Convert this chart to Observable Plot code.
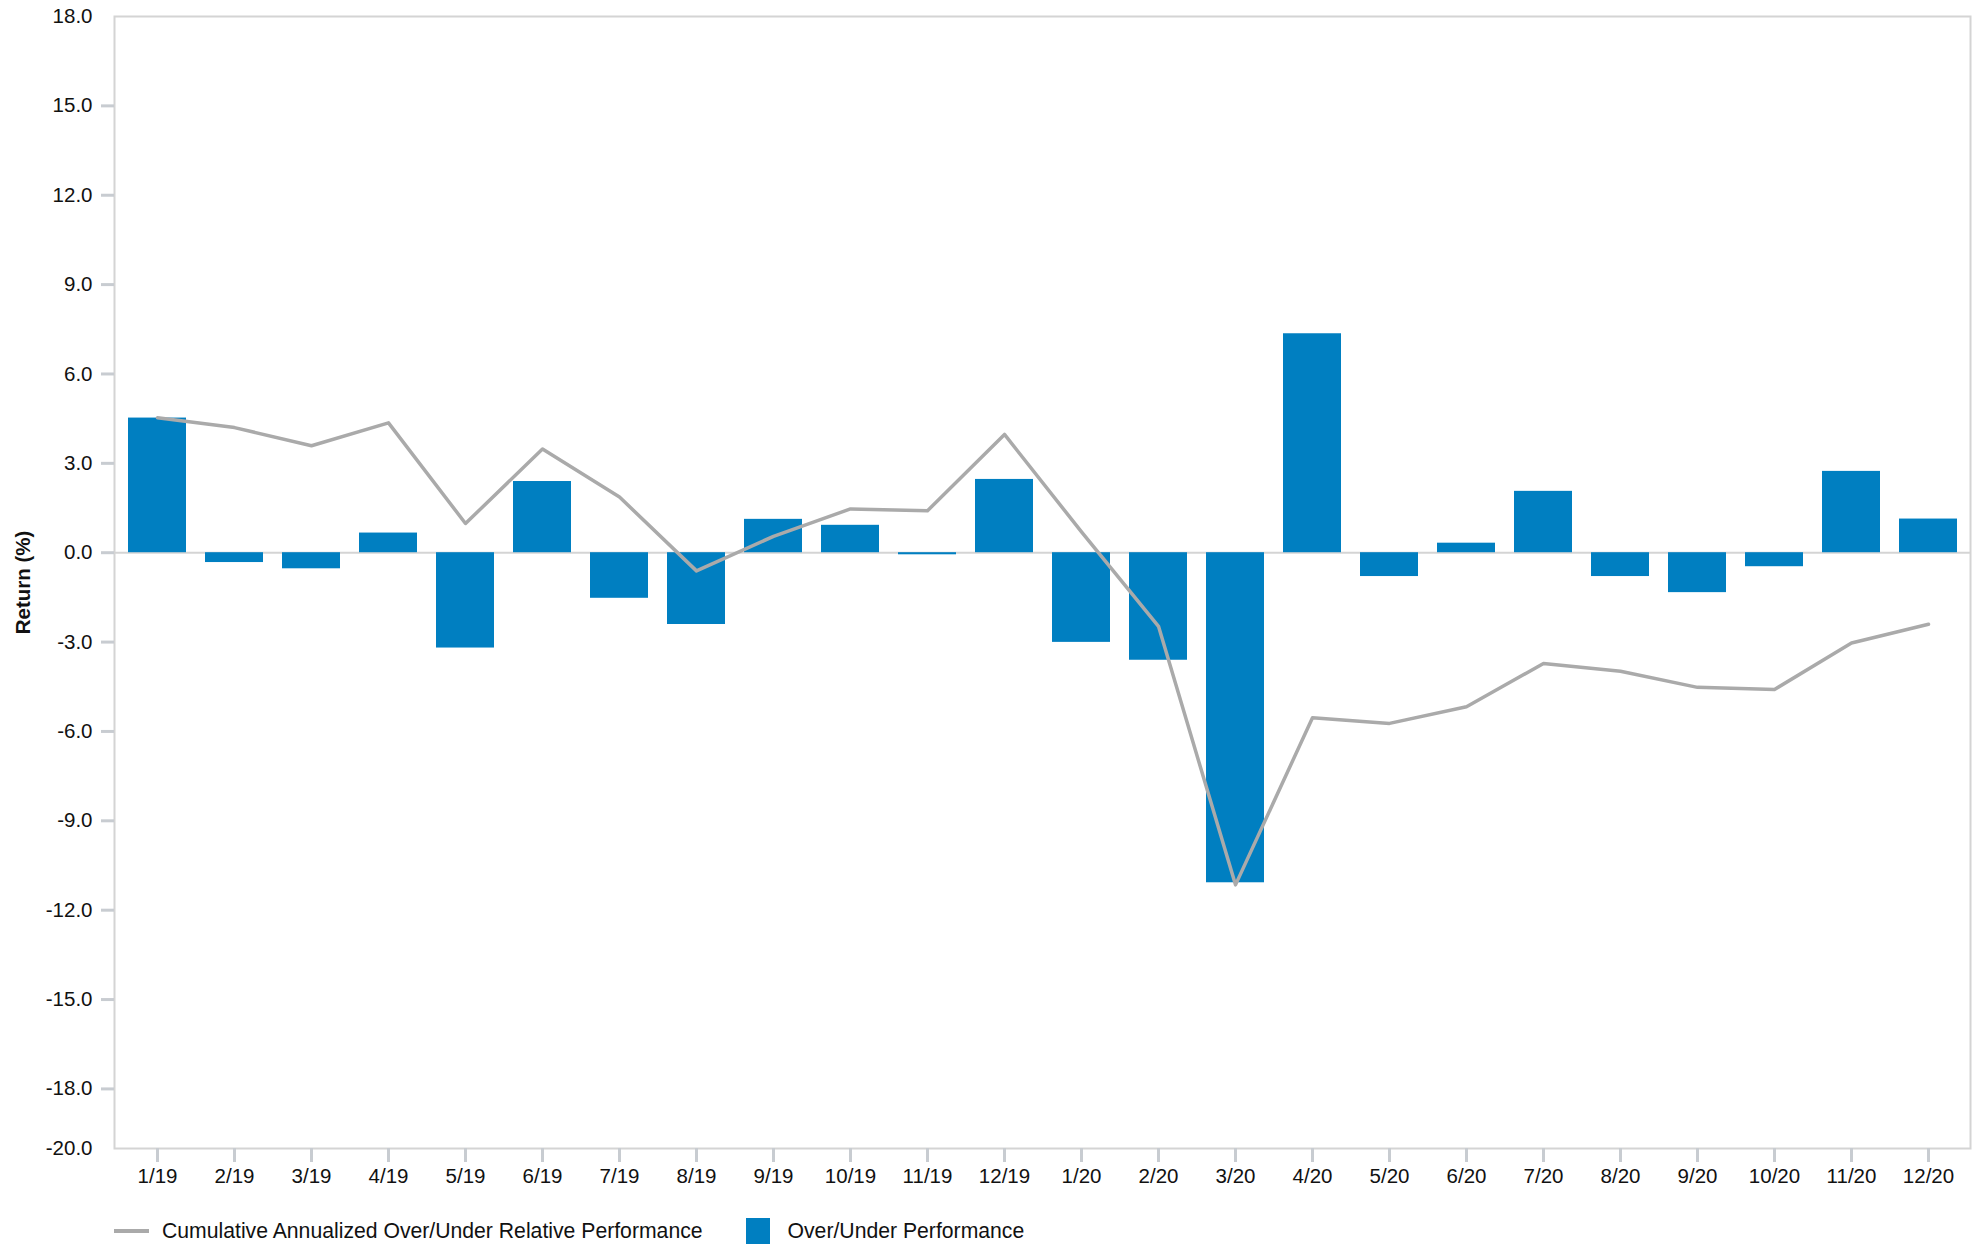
<!DOCTYPE html>
<html>
<head>
<meta charset="utf-8">
<script src="https://cdn.jsdelivr.net/npm/d3@7"></script>
<script src="https://cdn.jsdelivr.net/npm/@observablehq/plot@0.6"></script>
<style>
  html, body { margin: 0; padding: 0; background: #fff; }
  body { width: 1980px; font-family: "Liberation Sans", Arial, sans-serif; color: #111; }
  #chart svg { display: block; }
  .legend { display: flex; align-items: center; height: 40px; margin-top: 6px; padding-left: 114px; font-size: 21.2px; color: #111; }
  .legend .sw-line { width: 35px; height: 4px; background: #aaaaaa; margin-right: 13px; }
  .legend .sw-box { width: 24px; height: 27px; background: #007fc1; margin-left: 43px; margin-right: 18px; }
</style>
</head>
<body>
<div id="chart"></div>
<div class="legend">
  <span class="sw-line"></span><span>Cumulative Annualized Over/Under Relative Performance</span>
  <span class="sw-box"></span><span>Over/Under Performance</span>
</div>
<script>
const months = ["1/19","2/19","3/19","4/19","5/19","6/19","7/19","8/19","9/19","10/19","11/19","12/19",
                "1/20","2/20","3/20","4/20","5/20","6/20","7/20","8/20","9/20","10/20","11/20","12/20"];
const overUnder = [4.52, -0.33, -0.54, 0.66, -3.20, 2.39, -1.53, -2.41, 1.12, 0.92, -0.07, 2.46,
                   -3.01, -3.61, -11.08, 7.35, -0.80, 0.32, 2.06, -0.80, -1.34, -0.47, 2.73, 1.13];
const cumulative = [4.53, 4.20, 3.59, 4.36, 0.98, 3.48, 1.87, -0.61, 0.55, 1.47, 1.41, 3.97,
                    0.70, -2.47, -11.15, -5.54, -5.73, -5.17, -3.72, -3.98, -4.52, -4.59, -3.03, -2.40];
const yTicks = [15, 12, 9, 6, 3, 0, -3, -6, -9, -12, -15, -18];
const yEdgeTicks = [18, -20];
const yTitle = ["Return (%)"];

const data = months.map((m, i) => ({month: m, perf: overUnder[i], cum: cumulative[i]}));

const chart = Plot.plot({
  width: 1980,
  height: 1205,
  marginLeft: 114,
  marginRight: 10,
  marginTop: 16,
  marginBottom: 57,
  style: {fontFamily: '"Liberation Sans", Arial, sans-serif', fontSize: "20.5px", color: "#111", background: "#fff"},
  x: {domain: months, paddingInner: 0.25, paddingOuter: 0.1, label: null},
  y: {domain: [-20, 18], label: null},
  marks: [
    Plot.frame({stroke: "#d4d4d4", strokeWidth: 2}),
    Plot.axisY({ticks: yTicks, tickSize: 13, tickPadding: 9, stroke: "#c8ccd1", strokeWidth: 3,
                tickFormat: d => d.toFixed(1), label: null}),
    Plot.axisY({ticks: yEdgeTicks, tickSize: 0, tickPadding: 22, tickFormat: d => d.toFixed(1), label: null}),
    Plot.axisX({tickSize: 14, tickPadding: 6, stroke: "#c8ccd1", strokeWidth: 3, label: null}),
    Plot.text(yTitle, {frameAnchor: "left", text: d => d, rotate: -90, dx: -91, textAnchor: "middle",
                       fontWeight: "bold", fontSize: 20.5, fill: "#111"}),
    Plot.ruleY([0], {stroke: "#d4d4d4", strokeWidth: 2}),
    Plot.barY(data, {x: "month", y: "perf", fill: "#007fc1"}),
    Plot.lineY(data, {x: "month", y: "cum", stroke: "#aaaaaa", strokeWidth: 3.5})
  ]
});
document.getElementById("chart").appendChild(chart);
</script>
</body>
</html>
